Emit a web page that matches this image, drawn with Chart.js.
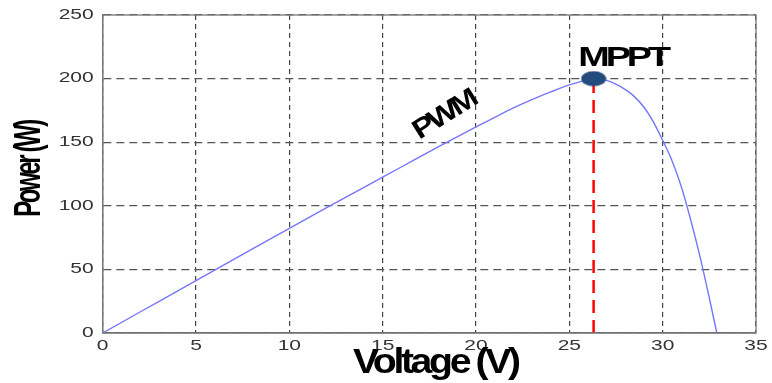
<!DOCTYPE html>
<html>
<head>
<meta charset="utf-8">
<script src="https://cdn.jsdelivr.net/npm/chart.js@4"></script>
<style>
  body { margin: 0; background: #fff; }
  #wrap { width: 772px; height: 383px; }
</style>
</head>
<body>
<div id="wrap"><canvas id="pvChart" width="772" height="383"></canvas></div>
<script>
// P-V curve
const voltage = [0, 2, 4, 6, 8, 10, 12, 14, 16, 18, 20, 21, 22, 23, 24, 25, 25.7, 26.3, 27, 27.7, 28.4, 29, 29.5, 30, 30.5, 31, 31.5, 32, 32.5, 32.9];
const power   = [0, 16.5, 33, 49.5, 66, 82.3, 98.5, 114.5, 130.5, 146.5, 162, 169.5, 177, 183.5, 189.5, 195, 198, 200, 198.6, 194, 187, 177.5, 166, 151.5, 135.5, 115, 89, 60, 27.5, 0];

const mpptVoltage = 26.3;
const mpptPower = 200;

const xTicks = [0, 5, 10, 15, 20, 25, 30, 35];
const yTicks = [0, 50, 100, 150, 200, 250];

const xTitle = 'Voltage (V)';
const yTitle = 'Power (W)';
const mpptLabel = 'MPPT';
const pwmLabel = 'PWM';
const pwmAt = [18.3, 171];

// dark blue ellipse used as the MPPT marker
const marker = document.createElement('canvas');
marker.width = 26;
marker.height = 16;
(function () {
    const c = marker.getContext('2d');
    c.fillStyle = '#234b7e';
    c.beginPath();
    c.ellipse(13, 8, 12.5, 7.5, 0, 0, Math.PI * 2);
    c.fill();
})();

const tickFont = '14px "Liberation Sans", Arial, sans-serif';
const tickStretch = 1.5;

const labelsPlugin = {
    id: 'labels',
    afterDraw(chart) {
        const ctx = chart.ctx;
        const a = chart.chartArea;
        const xs = chart.scales.x, ys = chart.scales.y;

        // frame round the plot
        ctx.save();
        ctx.strokeStyle = '#777';
        ctx.lineWidth = 1.3;
        ctx.strokeRect(a.left, a.top, a.right - a.left, a.bottom - a.top);
        ctx.restore();

        // tick labels, drawn a little wide like the original
        ctx.save();
        ctx.fillStyle = '#333';
        ctx.font = tickFont;
        ctx.textBaseline = 'middle';
        ys.ticks.forEach(t => {
            ctx.save();
            ctx.translate(a.left - 9, ys.getPixelForValue(t.value));
            ctx.scale(tickStretch, 1);
            ctx.textAlign = 'right';
            ctx.fillText(String(t.value), 0, 0);
            ctx.restore();
        });
        xs.ticks.forEach(t => {
            ctx.save();
            ctx.translate(xs.getPixelForValue(t.value), a.bottom + 13);
            ctx.scale(tickStretch, 1);
            ctx.textAlign = 'center';
            ctx.fillText(String(t.value), 0, 0);
            ctx.restore();
        });
        ctx.restore();

        ctx.save();
        ctx.fillStyle = '#000';
        ctx.letterSpacing = '-3px';

        // MPPT
        ctx.save();
        ctx.translate(xs.getPixelForValue(mpptVoltage) + 29, ys.getPixelForValue(mpptPower) - 13);
        ctx.scale(1.35, 1);
        ctx.font = 'bold 28px "Liberation Sans", Arial, sans-serif';
        ctx.textAlign = 'center';
        ctx.textBaseline = 'alphabetic';
        ctx.fillText(mpptLabel, 0, 0);
        ctx.restore();

        // PWM
        ctx.save();
        ctx.translate(xs.getPixelForValue(pwmAt[0]), ys.getPixelForValue(pwmAt[1]));
        ctx.rotate(-32 * Math.PI / 180);
        ctx.scale(1.25, 1.05);
        ctx.font = 'bold 26px "Liberation Sans", Arial, sans-serif';
        ctx.textAlign = 'center';
        ctx.textBaseline = 'middle';
        ctx.fillText(pwmLabel, 0, 0);
        ctx.restore();

        // axis titles
        ctx.save();
        ctx.translate(30, 169);
        ctx.rotate(-Math.PI / 2);
        ctx.scale(0.8, 1.2);
        ctx.font = 'bold 30px "Liberation Sans", Arial, sans-serif';
        ctx.textAlign = 'center';
        ctx.textBaseline = 'middle';
        ctx.fillText(yTitle, 0, 0);
        ctx.restore();

        ctx.save();
        ctx.translate((a.left + a.right) / 2 + 6, 363);
        ctx.scale(1.12, 1);
        ctx.font = 'bold 35px "Liberation Sans", Arial, sans-serif';
        ctx.textAlign = 'center';
        ctx.textBaseline = 'middle';
        ctx.fillText(xTitle, 0, 0);
        ctx.restore();

        ctx.restore();
    }
};

const curve = voltage.map((v, i) => ({ x: v, y: power[i] }));

new Chart(document.getElementById('pvChart'), {
    type: 'line',
    data: {
        datasets: [
            {
                label: 'MPPT',
                data: [{ x: mpptVoltage, y: mpptPower }],
                showLine: false,
                pointStyle: marker,
                pointRadius: 8
            },
            {
                label: 'MPPT voltage',
                data: [{ x: mpptVoltage, y: 0 }, { x: mpptVoltage, y: mpptPower }],
                borderColor: '#ff0000',
                borderWidth: 2.5,
                borderDash: [13, 7],
                pointRadius: 0
            },
            {
                label: 'P-V',
                data: curve,
                borderColor: '#7676ff',
                borderWidth: 1.4,
                pointRadius: 0,
                cubicInterpolationMode: 'monotone'
            }
        ]
    },
    options: {
        responsive: false,
        animation: false,
        layout: { padding: { top: 15, right: 16, left: 0, bottom: 0 } },
        plugins: {
            legend: { display: false },
            tooltip: { enabled: false }
        },
        scales: {
            x: {
                type: 'linear',
                min: 0,
                max: 35,
                afterBuildTicks: s => { s.ticks = xTicks.map(v => ({ value: v })); },
                afterFit: s => { s.height = 50; },
                grid: { color: '#444', lineWidth: 1.2, drawTicks: false },
                border: { color: '#666', width: 1.3, dash: [5, 4] },
                ticks: { display: false }
            },
            y: {
                min: 0,
                max: 250,
                afterBuildTicks: s => { s.ticks = yTicks.map(v => ({ value: v })); },
                afterFit: s => { s.width = 102.7; },
                grid: { color: '#555', lineWidth: 1.2, drawTicks: false },
                border: { color: '#777', width: 1.3, dash: [8, 5] },
                ticks: { display: false }
            }
        }
    },
    plugins: [labelsPlugin]
});
</script>
</body>
</html>
